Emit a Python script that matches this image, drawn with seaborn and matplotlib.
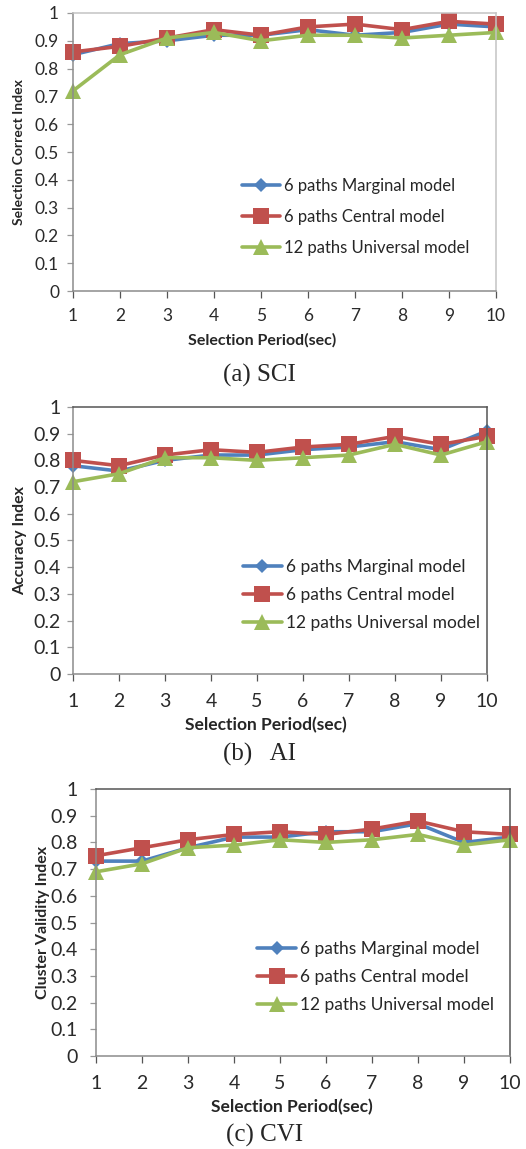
import numpy as np
import pandas as pd
import seaborn as sns
import matplotlib.pyplot as plt

sns.set_style("white")
plt.rcParams['font.family'] = ['Lato', 'DejaVu Sans']

period = [1, 2, 3, 4, 5, 6, 7, 8, 9, 10]
series_names = ['6 paths Marginal model', '6 paths Central model',
                '12 paths Universal model']

# (a) SCI
sci_marginal = [0.85, 0.89, 0.90, 0.92, 0.92, 0.94, 0.92, 0.93, 0.96, 0.95]
sci_central = [0.86, 0.88, 0.91, 0.94, 0.92, 0.95, 0.96, 0.94, 0.97, 0.96]
sci_universal = [0.72, 0.85, 0.91, 0.93, 0.90, 0.92, 0.92, 0.91, 0.92, 0.93]

# (b) AI
ai_marginal = [0.78, 0.76, 0.80, 0.82, 0.82, 0.84, 0.85, 0.87, 0.84, 0.91]
ai_central = [0.80, 0.78, 0.82, 0.84, 0.83, 0.85, 0.86, 0.89, 0.86, 0.89]
ai_universal = [0.72, 0.75, 0.81, 0.81, 0.80, 0.81, 0.82, 0.86, 0.82, 0.87]

# (c) CVI
cvi_marginal = [0.73, 0.73, 0.78, 0.82, 0.82, 0.84, 0.84, 0.87, 0.80, 0.82]
cvi_central = [0.75, 0.78, 0.81, 0.83, 0.84, 0.83, 0.85, 0.88, 0.84, 0.83]
cvi_universal = [0.69, 0.72, 0.78, 0.79, 0.81, 0.80, 0.81, 0.83, 0.79, 0.81]

yticks = [0, 0.1, 0.2, 0.3, 0.4, 0.5, 0.6, 0.7, 0.8, 0.9, 1]
ytick_labels = ['0', '0.1', '0.2', '0.3', '0.4', '0.5', '0.6', '0.7', '0.8',
                '0.9', '1']

palette = {series_names[0]: '#4F81BD', series_names[1]: '#C0504D',
           series_names[2]: '#9BBB59'}
markers = {series_names[0]: 'D', series_names[1]: 's',
           series_names[2]: '^'}


def make_df(a, b, c):
    frames = []
    for name, vals in zip(series_names, [a, b, c]):
        frames.append(pd.DataFrame({'period': period, 'value': vals,
                                    'model': name}))
    return pd.concat(frames, ignore_index=True)


panels = [
    dict(df=make_df(sci_marginal, sci_central, sci_universal),
         ylab='Selection Correct Index', caption='(a) SCI',
         rect=[0.1388, 0.7467, 0.804, 0.242], leg=(0.40, 0.266),
         tick=12.5, ylab_fs=10, xlab_fs=11.5, leg_fs=12, lspace=0.9,
         xlab_pos=(0.447, -0.176), cap_pos=(0.442, -0.302), ypad=6,
         xpad=7.5, frame_top='#c4c4c4'),
    dict(df=make_df(ai_marginal, ai_central, ai_universal),
         ylab='Accuracy Index', caption='(b)   AI',
         rect=[0.1388, 0.4134, 0.787, 0.2324], leg=(0.41, 0.296),
         tick=14, ylab_fs=11.5, xlab_fs=12.5, leg_fs=12.5, lspace=0.7,
         xlab_pos=(0.466, -0.191), cap_pos=(0.45, -0.303), ypad=5,
         xpad=9, frame_top='#555555'),
    dict(df=make_df(cvi_marginal, cvi_central, cvi_universal),
         ylab='Cluster Validity Index', caption='(c) CVI',
         rect=[0.1825, 0.0809, 0.787, 0.2324], leg=(0.389, 0.296),
         tick=14, ylab_fs=11.5, xlab_fs=12.5, leg_fs=12.5, lspace=0.7,
         xlab_pos=(0.472, -0.191), cap_pos=(0.408, -0.296), ypad=9,
         xpad=9, frame_top='#555555'),
]

fig = plt.figure(figsize=(5.26, 11.49), dpi=100)

for p in panels:
    ax = fig.add_axes(p['rect'])
    sns.lineplot(data=p['df'], x='period', y='value', hue='model',
                 style='model', palette=palette, markers=markers,
                 dashes=False, linewidth=2.6, markersize=11,
                 markeredgewidth=0, ax=ax)
    for line in ax.get_lines():
        if line.get_marker() == 'D':
            line.set_markersize(7)
        line.set_clip_on(False)
    ax.set_xlim(1, 10)
    ax.set_ylim(0, 1)
    ax.set_xticks(period)
    ax.set_xticklabels([str(v) for v in period])
    ax.set_yticks(yticks)
    ax.set_yticklabels(ytick_labels)
    ax.tick_params(axis='x', direction='out', length=5, width=0.9,
                   pad=p['xpad'], labelsize=p['tick'], colors='#555555',
                   labelcolor='#2a2a2a', bottom=True)
    ax.tick_params(axis='y', direction='out', length=4, width=0.9,
                   pad=p['ypad'], labelsize=p['tick'], colors='#999999',
                   labelcolor='#2a2a2a', left=True)
    for side in ['left', 'bottom']:
        ax.spines[side].set_color('#8c8c8c')
        ax.spines[side].set_linewidth(1.1)
    for side in ['top', 'right']:
        ax.spines[side].set_color(p['frame_top'])
        ax.spines[side].set_linewidth(1.1)
    ax.set_xlabel('Selection Period(sec)', fontsize=p['xlab_fs'],
                  fontweight='bold')
    ax.xaxis.set_label_coords(*p['xlab_pos'])
    ax.xaxis.label.set_va('center')
    ax.set_ylabel(p['ylab'], fontsize=p['ylab_fs'], fontweight='bold')
    ax.yaxis.set_label_coords(-0.127, 0.5)
    ax.yaxis.label.set_va('center')
    handles, labels = ax.get_legend_handles_labels()
    ax.legend(handles, labels, loc='center left', bbox_to_anchor=p['leg'],
              frameon=False, fontsize=p['leg_fs'], handlelength=2.25,
              handletextpad=0.25, labelspacing=p['lspace'], borderpad=0,
              borderaxespad=0)
    ax.text(p['cap_pos'][0], p['cap_pos'][1], p['caption'],
            transform=ax.transAxes, ha='center', va='center', fontsize=18,
            family='Liberation Serif')

plt.savefig('out.png', dpi=100)
